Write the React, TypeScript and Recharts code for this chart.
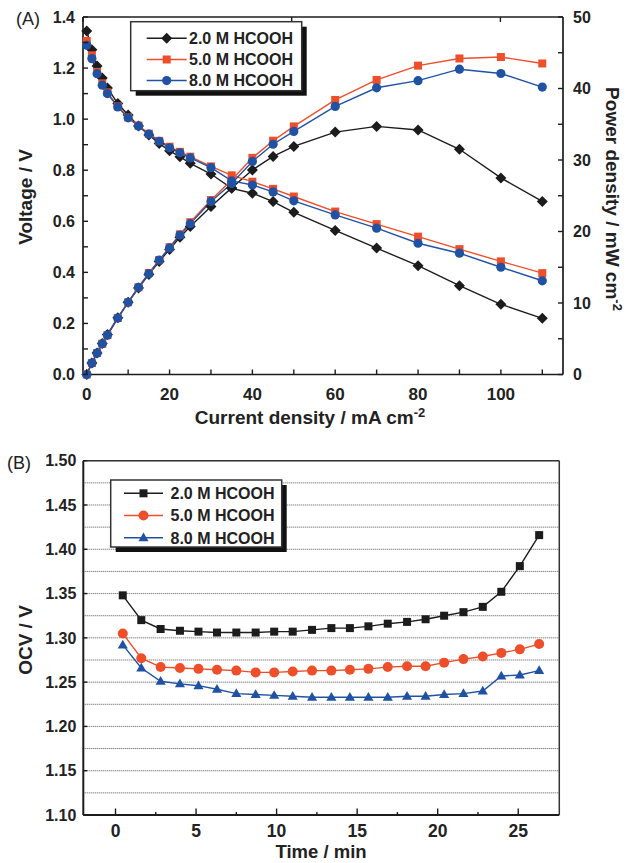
import React from 'react';
import { LineChart, Line, XAxis, YAxis, CartesianGrid } from 'recharts';

const FONT = '"Liberation Sans", Arial, Helvetica, sans-serif';
const INK = '#1c1c1c';
const ORANGE = '#ee4e2a';
const BLUE = '#2052a4';

// Polarization curves (panel A)
const currentDensity = [0, 1.25, 2.5, 3.75, 5, 7.5, 10, 12.5, 15, 17.5, 20, 22.5, 25, 30, 35, 40, 45, 50, 60, 70, 80, 90, 100, 110];
const voltage2M = [1.345, 1.272, 1.208, 1.161, 1.122, 1.061, 1.016, 0.973, 0.938, 0.905, 0.876, 0.853, 0.827, 0.785, 0.729, 0.71, 0.677, 0.635, 0.564, 0.495, 0.426, 0.348, 0.275, 0.22];
const voltage5M = [1.306, 1.25, 1.185, 1.14, 1.105, 1.05, 1.007, 0.975, 0.943, 0.915, 0.892, 0.872, 0.853, 0.815, 0.78, 0.755, 0.727, 0.697, 0.638, 0.589, 0.54, 0.491, 0.443, 0.397];
const voltage8M = [1.289, 1.237, 1.178, 1.133, 1.1, 1.048, 1.005, 0.973, 0.941, 0.913, 0.888, 0.868, 0.848, 0.81, 0.758, 0.742, 0.715, 0.68, 0.625, 0.573, 0.514, 0.475, 0.42, 0.367];
const power2M = [0, 1.6, 3.0, 4.35, 5.6, 7.95, 10.1, 12.1, 14.0, 15.8, 17.5, 19.2, 20.7, 23.5, 26.1, 28.6, 30.5, 31.9, 33.9, 34.7, 34.2, 31.5, 27.5, 24.2];
const power5M = [0, 1.6, 3.0, 4.3, 5.5, 7.9, 10.1, 12.2, 14.2, 16.0, 17.8, 19.6, 21.3, 24.4, 27.2, 30.3, 32.7, 34.7, 38.4, 41.2, 43.2, 44.2, 44.4, 43.5];
const power8M = [0, 1.6, 3.0, 4.3, 5.5, 7.9, 10.1, 12.2, 14.1, 16.0, 17.7, 19.5, 21.1, 24.2, 26.7, 29.8, 32.2, 34.0, 37.5, 40.1, 41.1, 42.7, 42.1, 40.2];

// Open-circuit voltage vs time (panel B)
const timeMin = [0.45, 1.6, 2.8, 4.0, 5.15, 6.3, 7.5, 8.7, 9.85, 11.0, 12.2, 13.4, 14.55, 15.7, 16.9, 18.1, 19.25, 20.4, 21.6, 22.8, 23.95, 25.1, 26.3];
const ocv2M = [1.348, 1.32, 1.31, 1.308, 1.307, 1.306, 1.306, 1.306, 1.307, 1.307, 1.309, 1.311, 1.311, 1.313, 1.316, 1.318, 1.321, 1.325, 1.329, 1.335, 1.352, 1.381, 1.416];
const ocv5M = [1.305, 1.277, 1.267, 1.266, 1.265, 1.264, 1.263, 1.261, 1.261, 1.262, 1.263, 1.263, 1.264, 1.265, 1.267, 1.268, 1.268, 1.272, 1.276, 1.279, 1.283, 1.287, 1.293];
const ocv8M = [1.292, 1.266, 1.251, 1.248, 1.246, 1.242, 1.237, 1.236, 1.235, 1.234, 1.233, 1.233, 1.233, 1.233, 1.233, 1.234, 1.234, 1.236, 1.237, 1.24, 1.257, 1.258, 1.263];

// tick values
const voltageTicks = [0, 0.1, 0.2, 0.3, 0.4, 0.5, 0.6, 0.7, 0.8, 0.9, 1.0, 1.1, 1.2, 1.3, 1.4];
const powerTicks = [0, 5, 10, 15, 20, 25, 30, 35, 40, 45, 50];
const currentTicks = [0, 10, 20, 30, 40, 50, 60, 70, 80, 90, 100, 110];
const ocvTicks = [1.1, 1.125, 1.15, 1.175, 1.2, 1.225, 1.25, 1.275, 1.3, 1.325, 1.35, 1.375, 1.4, 1.425, 1.45, 1.475, 1.5];
const timeTicks = [0, 2.5, 5, 7.5, 10, 12.5, 15, 17.5, 20, 22.5, 25];

const seriesNames = ['2.0 M HCOOH', '5.0 M HCOOH', '8.0 M HCOOH'];
const seriesColors = [INK, ORANGE, BLUE];

type Shape = 'diamond' | 'square' | 'circle' | 'triangle';

function Marker({ shape, cx, cy, color, size }: { shape: Shape; cx: number; cy: number; color: string; size: number }) {
  if (shape === 'diamond') {
    return <path d={`M${cx},${cy - size}L${cx + size},${cy}L${cx},${cy + size}L${cx - size},${cy}Z`} fill={color} />;
  }
  if (shape === 'square') {
    return <rect x={cx - size} y={cy - size} width={size * 2} height={size * 2} fill={color} />;
  }
  if (shape === 'triangle') {
    return <path d={`M${cx},${cy - size * 1.15}L${cx + size * 1.1},${cy + size * 0.75}L${cx - size * 1.1},${cy + size * 0.75}Z`} fill={color} />;
  }
  return <circle cx={cx} cy={cy} r={size} fill={color} />;
}

const dotFor = (shape: Shape, color: string, size: number) => (p: any) => {
  if (p.cx == null || p.cy == null) return <g key={`e-${p.index}`} />;
  return (
    <g key={`m-${p.index}`}>
      <Marker shape={shape} cx={p.cx} cy={p.cy} color={color} size={size} />
    </g>
  );
};

type Side = 'left' | 'right' | 'top' | 'bottom';

// inward-pointing ticks, labels only on the major ones
function axisTick(side: Side, isMajor: (v: number) => boolean, fmt: ((v: number) => string) | null, majorLen: number, minorLen: number, fontSize: number, gap: number) {
  return (p: any) => {
    const x = p.x;
    const y = p.y;
    const v = p.payload.value;
    const major = isMajor(v);
    const len = major ? majorLen : minorLen;
    const txt = major && fmt ? fmt(v) : null;
    let tick: React.ReactNode = null;
    let label: React.ReactNode = null;
    const ts = { fontFamily: FONT, fontSize, fontWeight: 700, fill: '#222' };
    if (side === 'left') {
      tick = <line x1={x} y1={y} x2={x + len} y2={y} stroke={INK} strokeWidth={1.4} />;
      if (txt) label = <text x={x - gap} y={y + fontSize * 0.36} textAnchor="end" style={ts}>{txt}</text>;
    } else if (side === 'right') {
      tick = <line x1={x} y1={y} x2={x - len} y2={y} stroke={INK} strokeWidth={1.4} />;
      if (txt) label = <text x={x + gap} y={y + fontSize * 0.36} textAnchor="start" style={ts}>{txt}</text>;
    } else if (side === 'bottom') {
      tick = <line x1={x} y1={y} x2={x} y2={y - len} stroke={INK} strokeWidth={1.4} />;
      if (txt) label = <text x={x} y={y + gap} textAnchor="middle" style={ts}>{txt}</text>;
    } else {
      tick = <line x1={x} y1={y} x2={x} y2={y + len} stroke={INK} strokeWidth={1.4} />;
    }
    return (
      <g key={`t-${side}-${p.index}`}>
        {tick}
        {label}
      </g>
    );
  };
}

const topRows = currentDensity.map((j, i) => ({
  j,
  v2: voltage2M[i],
  v5: voltage5M[i],
  v8: voltage8M[i],
  p2: power2M[i],
  p5: power5M[i],
  p8: power8M[i],
}));

const bottomRows = timeMin.map((t, i) => ({ t, o2: ocv2M[i], o5: ocv5M[i], o8: ocv8M[i] }));

const topShapes: Shape[] = ['diamond', 'square', 'circle'];
const topSizes = [5.5, 4, 4.6];
const bottomShapes: Shape[] = ['square', 'circle', 'triangle'];
const bottomSizes = [4, 5, 4.6];

function LegendBox({ x, y, w, h, rowY, lineX1, lineX2, textX, shapes, sizes }: { x: number; y: number; w: number; h: number; rowY: number[]; lineX1: number; lineX2: number; textX: number; shapes: Shape[]; sizes: number[] }) {
  return (
    <g>
      <rect x={x + 5} y={y + 5} width={w} height={h} fill="#111" />
      <rect x={x} y={y} width={w} height={h} fill="#fff" stroke="#333" strokeWidth={1.5} />
      {seriesNames.map((name, i) => (
        <g key={name}>
          <line x1={lineX1} y1={rowY[i]} x2={lineX2} y2={rowY[i]} stroke={seriesColors[i]} strokeWidth={1.5} />
          <Marker shape={shapes[i]} cx={(lineX1 + lineX2) / 2} cy={rowY[i]} color={seriesColors[i]} size={sizes[i]} />
          <text x={textX} y={rowY[i] + 5.8} style={{ fontFamily: FONT, fontSize: 16, fontWeight: 700, fill: '#222' }}>{name}</text>
        </g>
      ))}
    </g>
  );
}

const titleStyle = { fontFamily: FONT, fontSize: 19, fontWeight: 700, fill: '#222' };

export default function App() {
  const axisLine = { stroke: INK, strokeWidth: 1.7 };
  return (
    <div style={{ position: 'absolute', left: 0, top: 0, width: 638, height: 863, background: '#fff', overflow: 'hidden' }}>
      <div style={{ position: 'absolute', left: 0, top: 0 }}>
        <LineChart width={638} height={430} data={topRows} margin={{ top: 16, right: 74, bottom: 54.5, left: 82 }}>
          <XAxis
            dataKey="j"
            type="number"
            domain={[-0.9, 115]}
            ticks={currentTicks}
            interval={0}
            height={1}
            tickSize={0}
            tickMargin={0}
            axisLine={axisLine}
            tickLine={false}
            tick={axisTick('bottom', (v) => v % 20 === 0, (v) => String(v), 5, 5, 17, 25.5)}
          />
          <XAxis
            xAxisId="top"
            orientation="top"
            type="number"
            domain={[-0.9, 115]}
            ticks={currentTicks}
            interval={0}
            height={1}
            tickSize={0}
            tickMargin={0}
            axisLine={axisLine}
            tickLine={false}
            tick={axisTick('top', () => true, null, 5, 5, 17, 0)}
          />
          <YAxis
            yAxisId="v"
            type="number"
            domain={[0, 1.4]}
            ticks={voltageTicks}
            interval={0}
            width={1}
            tickSize={0}
            tickMargin={0}
            axisLine={axisLine}
            tickLine={false}
            tick={axisTick('left', (v) => Math.round(v * 10) % 2 === 0, (v) => v.toFixed(1), 5, 5, 16, 8)}
          />
          <YAxis
            yAxisId="p"
            orientation="right"
            type="number"
            domain={[0, 50]}
            ticks={powerTicks}
            interval={0}
            width={1}
            tickSize={0}
            tickMargin={0}
            axisLine={axisLine}
            tickLine={false}
            tick={axisTick('right', (v) => v % 10 === 0, (v) => String(v), 5, 5, 16, 10)}
          />
          <Line yAxisId="v" dataKey="v2" type="linear" stroke={INK} strokeWidth={1.4} dot={dotFor('diamond', INK, 5.5)} activeDot={false} isAnimationActive={false} />
          <Line yAxisId="p" dataKey="p2" type="linear" stroke={INK} strokeWidth={1.4} dot={dotFor('diamond', INK, 5.5)} activeDot={false} isAnimationActive={false} />
          <Line yAxisId="v" dataKey="v5" type="linear" stroke={ORANGE} strokeWidth={1.4} dot={dotFor('square', ORANGE, 4)} activeDot={false} isAnimationActive={false} />
          <Line yAxisId="p" dataKey="p5" type="linear" stroke={ORANGE} strokeWidth={1.4} dot={dotFor('square', ORANGE, 4)} activeDot={false} isAnimationActive={false} />
          <Line yAxisId="v" dataKey="v8" type="linear" stroke={BLUE} strokeWidth={1.4} dot={dotFor('circle', BLUE, 4.6)} activeDot={false} isAnimationActive={false} />
          <Line yAxisId="p" dataKey="p8" type="linear" stroke={BLUE} strokeWidth={1.4} dot={dotFor('circle', BLUE, 4.6)} activeDot={false} isAnimationActive={false} />
        </LineChart>
      </div>

      <div style={{ position: 'absolute', left: 0, top: 440 }}>
        <LineChart width={638} height={423} data={bottomRows} margin={{ top: 19.7, right: 77.7, bottom: 47, left: 82.3 }}>
          <CartesianGrid horizontal vertical={false} horizontalValues={ocvTicks} stroke="#555" strokeDasharray="1 1" strokeWidth={1} />
          <XAxis
            dataKey="t"
            type="number"
            domain={[-2, 27.55]}
            ticks={timeTicks}
            interval={0}
            height={1}
            tickSize={0}
            tickMargin={0}
            axisLine={{ stroke: INK, strokeWidth: 2 }}
            tickLine={false}
            tick={axisTick('bottom', (v) => v % 5 === 0, (v) => String(v), 6.5, 3, 17.5, 22)}
          />
          <XAxis
            xAxisId="top"
            orientation="top"
            type="number"
            domain={[-2, 27.55]}
            ticks={timeTicks}
            interval={0}
            height={1}
            tickSize={0}
            tickMargin={0}
            axisLine={{ stroke: '#333', strokeWidth: 1.5 }}
            tickLine={false}
            tick={axisTick('top', () => true, null, 0, 0, 17, 0)}
          />
          <YAxis
            type="number"
            domain={[1.1, 1.5]}
            ticks={ocvTicks}
            interval={0}
            width={1}
            tickSize={0}
            tickMargin={0}
            axisLine={{ stroke: INK, strokeWidth: 2 }}
            tickLine={false}
            tick={axisTick('left', (v) => Math.round(v * 1000) % 50 === 0, (v) => v.toFixed(2), 4, 0, 16, 7)}
          />
          <YAxis
            yAxisId="r"
            orientation="right"
            type="number"
            domain={[1.1, 1.5]}
            ticks={ocvTicks}
            interval={0}
            width={1}
            tickSize={0}
            tickMargin={0}
            axisLine={{ stroke: '#333', strokeWidth: 1.5 }}
            tickLine={false}
            tick={axisTick('right', () => false, null, 0, 0, 16, 0)}
          />
          <Line dataKey="o2" type="linear" stroke={INK} strokeWidth={1.4} dot={dotFor('square', INK, 4)} activeDot={false} isAnimationActive={false} />
          <Line dataKey="o5" type="linear" stroke={ORANGE} strokeWidth={1.4} dot={dotFor('circle', ORANGE, 5)} activeDot={false} isAnimationActive={false} />
          <Line dataKey="o8" type="linear" stroke={BLUE} strokeWidth={1.4} dot={dotFor('triangle', BLUE, 4.6)} activeDot={false} isAnimationActive={false} />
        </LineChart>
      </div>

      <svg width={638} height={863} style={{ position: 'absolute', left: 0, top: 0, pointerEvents: 'none' }}>
        <text x={16} y={25} style={{ fontFamily: FONT, fontSize: 18, fill: '#222' }}>(A)</text>
        <text x={7} y={469} style={{ fontFamily: FONT, fontSize: 18, fill: '#222' }}>(B)</text>

        <text transform="translate(32,197) rotate(-90)" textAnchor="middle" style={titleStyle}>Voltage / V</text>
        <text transform="translate(606,199) rotate(90)" textAnchor="middle" style={titleStyle}>
          Power density / mW cm<tspan dy={-7} fontSize={13}>-2</tspan>
        </text>
        <text x={310} y={424} textAnchor="middle" style={titleStyle}>
          Current density / mA cm<tspan dy={-7} fontSize={13}>-2</tspan>
        </text>
        <text transform="translate(32,640) rotate(-90)" textAnchor="middle" style={titleStyle}>OCV / V</text>
        <text x={321} y={858} textAnchor="middle" style={{ ...titleStyle, fontSize: 18.5 }}>Time / min</text>

        <LegendBox x={130.7} y={21.7} w={171} h={69} rowY={[38.3, 59.5, 80.6]} lineX1={146.7} lineX2={186.7} textX={189} shapes={topShapes} sizes={topSizes} />
        <LegendBox x={110.7} y={480} w={171} h={67} rowY={[493.3, 515.5, 537.7]} lineX1={124} lineX2={163} textX={170.5} shapes={bottomShapes} sizes={bottomSizes} />
      </svg>
    </div>
  );
}
